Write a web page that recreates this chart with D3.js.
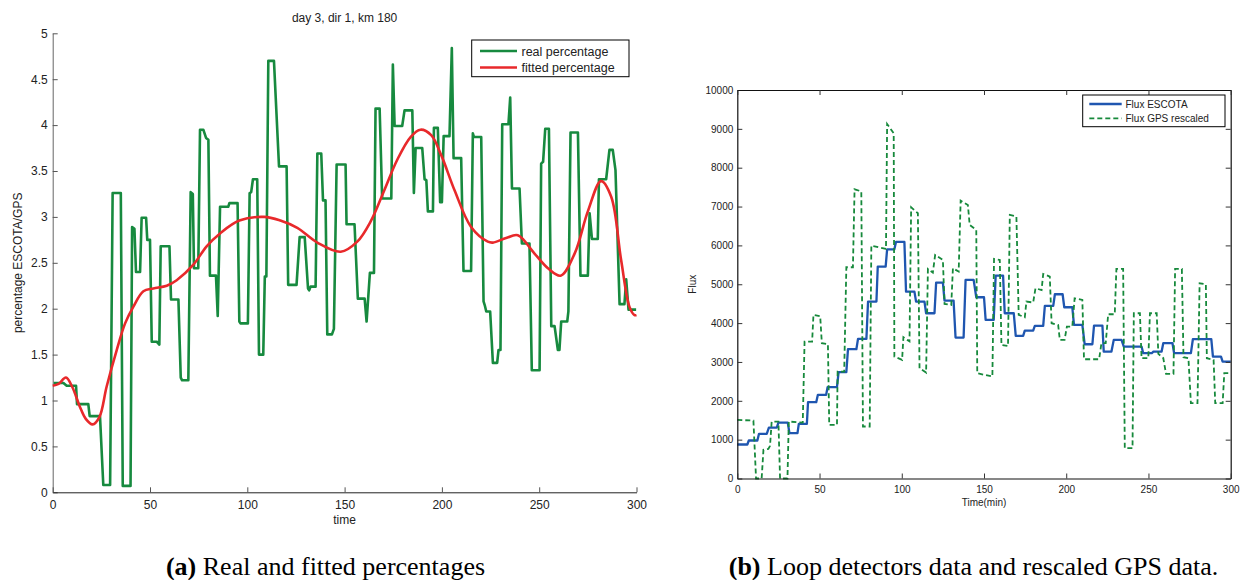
<!DOCTYPE html>
<html>
<head>
<meta charset="utf-8">
<script src="https://cdn.jsdelivr.net/npm/d3@7"></script>
<style>
  body { margin: 0; background: #fff; }
  text { font-family: "Liberation Sans", Arial, sans-serif; fill: #222; }
  .caption { font-family: "Liberation Serif", "Times New Roman", serif; font-size: 26px; fill: #000; }
</style>
</head>
<body>
<svg id="fig" width="1245" height="580"></svg>
<script>
// ---------- (a) percentage ESCOTA/GPS ----------
const realTime = [0.5,5.5,7.2,12,12.5,18.3,19,24.3,26,29.5,30.8,35,36,40,40.8,42,42.8,44.9,45.7,48,48.6,50,50.9,53.5,54.8,55.5,60,60.8,64.6,65.8,66.5,69.7,70.9,72,72.6,74.8,75.7,77.4,78.8,80,80.8,83.9,84.8,86,90.2,90.8,95,95.9,96.5,100.3,101.2,102,102.9,105.1,106,108.2,109,109.8,110.8,113.7,116.3,120.2,121,125.3,126.9,129.5,131.2,131.8,132.5,135.1,136,138,138.9,140.2,141.1,143.5,144.5,145.9,150.5,151,155.1,156.8,160.3,161.3,163,165.1,165.9,168,169.3,174,174.8,175.7,179.6,180.8,184.8,185.6,186.5,189.9,191.1,192,192.8,195.4,195.9,197.9,199.1,200,200.9,203.9,205.1,206,209.9,211.1,215,215.9,216.5,220.2,221.4,222,222.8,224.8,226.2,228.4,229.1,230.1,231,234.2,235.1,236,239.9,241.1,245,246.2,250.2,251,252,253.1,255,256.2,257.9,259.6,260.4,261.3,264.4,265,266.1,269.9,271.2,275,275.9,277.1,280.1,280.7,284.4,286.1,287.8,289.2,291.3,293.8,294.7,295.9,299.8];
const realPct = [1.19,1.19,1.16,1.16,0.96,0.96,0.83,0.83,0.08,0.08,3.26,3.26,0.07,0.07,2.89,2.87,2.40,2.40,2.99,2.99,2.75,2.75,1.64,1.64,1.61,2.68,2.68,2.10,2.10,1.25,1.22,1.22,3.27,3.25,2.44,2.44,3.95,3.95,3.86,3.84,2.36,2.36,1.92,3.11,3.11,3.15,3.15,1.86,1.84,1.84,3.26,3.27,3.41,3.41,1.50,1.50,2.35,2.35,4.70,4.70,3.55,3.55,2.26,2.26,2.78,2.78,2.22,2.20,2.24,2.24,3.69,3.69,3.18,3.18,1.72,1.72,1.78,3.57,3.57,2.92,2.92,2.11,2.11,1.86,2.39,2.39,4.18,4.18,3.20,3.20,4.66,3.99,3.99,4.16,4.16,3.26,3.75,3.75,3.41,3.40,3.06,3.06,3.97,3.97,3.16,3.16,3.88,3.88,4.84,3.64,3.64,2.41,2.41,3.91,3.87,3.87,2.08,2.04,1.97,1.97,1.41,1.41,1.55,1.55,4.01,4.01,4.30,3.31,3.31,2.71,2.71,1.33,1.33,3.58,3.60,3.96,3.96,1.81,1.81,1.55,1.55,1.86,1.86,1.97,3.92,3.92,2.36,2.36,3.04,2.76,2.76,3.41,3.41,3.73,3.73,3.51,2.05,2.05,2.32,1.99,1.99];

const fitTime = [0,3,6.8,10,14,17,20.5,24,27.7,32.9,37.2,41.4,46.6,51.7,58.6,63.7,72.3,79.1,86,95.9,108.6,117,125.7,136,148,156.5,163.4,170.2,177,183.9,189,194.5,199.7,206.5,215,223.6,226.2,233,239,247.6,254.5,261,268.2,275,281.8,287,292.1,296.4,299,300];
const fitPct = [1.16,1.18,1.25,1.15,0.93,0.80,0.74,0.82,1.15,1.55,1.84,2.02,2.19,2.22,2.25,2.31,2.48,2.68,2.82,2.96,3.00,2.96,2.88,2.72,2.62,2.73,2.95,3.28,3.62,3.87,3.95,3.89,3.67,3.29,2.89,2.73,2.72,2.77,2.80,2.60,2.44,2.36,2.60,3.06,3.39,3.22,2.53,2.02,1.93,1.93];

const pctTicks = [0,0.5,1,1.5,2,2.5,3,3.5,4,4.5,5];
const timeTicks = [0,50,100,150,200,250,300];

// ---------- (b) flux ----------
const fluxTime = [0,6.1,7,12.2,13.2,17.9,19.2,24,25,30.7,31.7,36.6,37.4,42.3,43,48,49,54,54.9,60.6,61.6,66.3,67.3,72.4,73.4,78.5,79.5,84.6,85.4,90.2,91.1,95.5,96.5,101.6,102.6,107.7,108.7,113.8,114.8,119.9,120.9,125,126,131.5,132.7,137.6,138.8,143.7,145.3,150,151,155.9,157.1,161.6,162.6,168.1,169.3,173.8,174.8,179.9,180.9,186,187,192.1,193.1,197.8,198.8,203.7,204.7,209.8,211.2,215.9,216.9,222,222.8,227.5,228.9,233.6,235,245.8,246.8,252,253,258,259,264.6,265.6,275.8,277,288.2,289.2,294.1,295.1,300];
const fluxEscota = [875,875,978,978,1150,1150,1312,1312,1440,1440,1166,1166,1406,1406,1964,1964,2153,2153,2350,2350,2736,2736,3328,3328,3593,3593,4554,4554,5455,5455,5900,5900,6089,6089,4811,4811,4554,4554,4254,4254,5043,5043,4580,4580,3628,3628,5111,5111,4666,4666,4082,4082,5223,5223,4254,4254,3671,3671,3808,3808,3928,3928,4443,4443,4743,4743,4408,4408,3954,3954,3456,3456,3937,3937,3267,3267,3568,3568,3396,3396,3225,3225,3267,3267,3482,3482,3225,3225,3585,3585,3139,3139,3010,3010];

const gpsTime = [0,9.8,11.4,14.8,15.9,18.9,19.9,20.9,25,26,30.5,31.3,39.8,40.9,45.5,46.3,50.4,51.4,55.1,55.9,60.6,61,65,66.3,70.3,71.3,75.4,76.4,80.5,81.5,90.4,91.1,95.1,95.5,100.2,101,104.7,105.7,109.8,110.8,114.8,115.9,118.9,120.3,125,126,130.1,131.1,134.6,135.8,140.2,141.3,145.3,145.9,155.1,156.1,159.6,160.6,164.6,165.7,169.7,171.1,174.8,175.8,179.9,181.3,185,186,190,191.1,195.1,196.1,199,200.4,203.7,205.1,209.8,210.8,220,221.4,224,225.5,229.5,230.5,234.6,235.6,240.3,241.1,244.8,245.8,249.9,250.9,255,256,259,260.7,265.2,266.2,270.3,271.3,274.3,275.8,279.8,281.1,284.9,285.5,289.6,290.6,295.1,296.1,300];
const gpsRescaled = [1509,1490,0,0,738,760,840,1466,1466,0,0,1466,1440,3525,3525,4211,4180,3482,3460,1381,1381,2753,2753,5437,5437,7444,7390,1338,1338,5995,5909,9125,8885,3139,3053,3636,3530,6981,6827,2839,2727,5394,5300,5755,5626,4494,4468,5412,5326,7153,7041,6527,6398,2710,2624,5652,5626,3439,3410,6784,6741,4211,4151,4554,4530,4897,4850,5266,5197,3997,3950,3568,3568,3911,3911,4640,4597,3070,3070,3482,3482,4228,4228,5394,5394,780,780,4254,4254,3096,3096,4254,4254,3207,3100,2693,2693,5394,5394,3122,3096,1938,1938,5026,5000,3096,3053,1938,1938,2710,2710];

const fluxTicks = [0,1000,2000,3000,4000,5000,6000,7000,8000,9000,10000];
const minuteTicks = [0,50,100,150,200,250,300];

const svg = d3.select("#fig");

// ================= panel (a) =================
const xA = d3.scaleLinear().domain([0, 300]).range([52.7, 636.5]);
const yA = d3.scaleLinear().domain([0, 5]).range([492.3, 33.3]);
const gA = svg.append("g");

const axA_left = gA.append("g").attr("transform", `translate(${xA(0)},0)`)
  .call(d3.axisLeft(yA).tickValues(pctTicks).tickFormat(d => String(d))
        .tickSizeInner(-5).tickSizeOuter(0).tickPadding(5));
const axA_bottom = gA.append("g").attr("transform", `translate(0,${yA(0)})`)
  .call(d3.axisBottom(xA).tickValues(timeTicks).tickFormat(d => String(d))
        .tickSizeInner(-5).tickSizeOuter(0).tickPadding(8));
[axA_left, axA_bottom].forEach(ax => {
  ax.selectAll("text").style("font-size", "12px").style("font-family", "Liberation Sans, Arial, sans-serif").attr("fill", "#222");
  ax.selectAll("line").attr("stroke", "#555");
});
axA_left.select(".domain").attr("stroke", "#666");
axA_bottom.select(".domain").attr("stroke", "#222");

const lineA = d3.line().x(d => xA(d[0])).y(d => yA(d[1]));
gA.append("path")
  .datum(d3.zip(realTime, realPct))
  .attr("d", lineA)
  .attr("fill", "none").attr("stroke", "#178a3f").attr("stroke-width", 2.6)
  .attr("stroke-linejoin", "round");
gA.append("path")
  .datum(d3.zip(fitTime, fitPct))
  .attr("d", lineA.curve(d3.curveCatmullRom.alpha(0.5)))
  .attr("fill", "none").attr("stroke", "#e8292b").attr("stroke-width", 2.6);

gA.append("text").attr("x", 344.6).attr("y", 22).attr("text-anchor", "middle")
  .style("font-size", "12px").text("day 3, dir 1, km 180");
gA.append("text").attr("x", 344.6).attr("y", 524).attr("text-anchor", "middle")
  .style("font-size", "12px").text("time");
gA.append("text").attr("transform", `translate(22,${(yA(0) + yA(5)) / 2}) rotate(-90)`)
  .attr("text-anchor", "middle").style("font-size", "12px").text("percentage ESCOTA/GPS");

// legend (a)
const legA = gA.append("g");
legA.append("rect").attr("x", 471.7).attr("y", 40).attr("width", 157.3).attr("height", 36.7)
  .attr("fill", "#fff").attr("stroke", "#000").attr("stroke-width", 1);
[["real percentage", "#178a3f", 51], ["fitted percentage", "#e8292b", 67.5]].forEach(([lab, col, yy]) => {
  legA.append("line").attr("x1", 480).attr("x2", 517).attr("y1", yy).attr("y2", yy)
    .attr("stroke", col).attr("stroke-width", 2.6);
  legA.append("text").attr("x", 521.5).attr("y", yy + 4.5).style("font-size", "12.5px").text(lab);
});

// ================= panel (b) =================
const xB = d3.scaleLinear().domain([0, 300]).range([737.3, 1230.7]);
const yB = d3.scaleLinear().domain([0, 10000]).range([478.5, 90]);
const gB = svg.append("g");

const lineB = d3.line().x(d => xB(d[0])).y(d => yB(d[1]));
gB.append("path")
  .datum(d3.zip(fluxTime, fluxEscota))
  .attr("d", lineB)
  .attr("fill", "none").attr("stroke", "#1f56b0").attr("stroke-width", 2.3)
  .attr("stroke-linejoin", "round");
gB.append("path")
  .datum(d3.zip(gpsTime, gpsRescaled))
  .attr("d", lineB)
  .attr("fill", "none").attr("stroke", "#16893b").attr("stroke-width", 1.8)
  .attr("stroke-dasharray", "5,3");

const axB = [
  gB.append("g").attr("transform", `translate(${xB(0)},0)`)
    .call(d3.axisLeft(yB).tickValues(fluxTicks).tickFormat(d => String(d)).tickSizeInner(-5).tickSizeOuter(0).tickPadding(4)),
  gB.append("g").attr("transform", `translate(${xB(300)},0)`)
    .call(d3.axisRight(yB).tickValues(fluxTicks).tickFormat("").tickSizeInner(-5).tickSizeOuter(0)),
  gB.append("g").attr("transform", `translate(0,${yB(0)})`)
    .call(d3.axisBottom(xB).tickValues(minuteTicks).tickFormat(d => String(d)).tickSizeInner(-5).tickSizeOuter(0).tickPadding(7)),
  gB.append("g").attr("transform", `translate(0,${yB(10000)})`)
    .call(d3.axisTop(xB).tickValues(minuteTicks).tickFormat("").tickSizeInner(-5).tickSizeOuter(0))
];
axB.forEach(ax => {
  ax.selectAll("text").style("font-size", "10px").style("font-family", "Liberation Sans, Arial, sans-serif").attr("fill", "#222");
  ax.selectAll("line").attr("stroke", "#333");
  ax.select(".domain").attr("stroke", "#111").attr("stroke-width", 1.2);
});

gB.append("text").attr("x", (xB(0) + xB(300)) / 2).attr("y", 505.5).attr("text-anchor", "middle")
  .style("font-size", "10px").text("Time(min)");
gB.append("text").attr("transform", `translate(696,${(yB(0) + yB(10000)) / 2}) rotate(-90)`)
  .attr("text-anchor", "middle").style("font-size", "10px").text("Flux");

// legend (b)
const legB = gB.append("g");
legB.append("rect").attr("x", 1082.7).attr("y", 95).attr("width", 142.3).attr("height", 31.7)
  .attr("fill", "#fff").attr("stroke", "#000").attr("stroke-width", 1);
[["Flux ESCOTA", "#1f56b0", 104, null, 2.3], ["Flux GPS rescaled", "#16893b", 118.3, "5,3", 1.8]].forEach(([lab, col, yy, dash, w]) => {
  legB.append("line").attr("x1", 1089.3).attr("x2", 1121.7).attr("y1", yy).attr("y2", yy)
    .attr("stroke", col).attr("stroke-width", w).attr("stroke-dasharray", dash);
  legB.append("text").attr("x", 1125.5).attr("y", yy + 3.6).style("font-size", "10px").text(lab);
});

// ================= captions =================
const capA = svg.append("text").attr("class", "caption").attr("x", 325.5).attr("y", 575).attr("text-anchor", "middle");
capA.append("tspan").attr("font-weight", "bold").text("(a)");
capA.append("tspan").text(" Real and fitted percentages");
const capB = svg.append("text").attr("class", "caption").attr("x", 973.5).attr("y", 575).attr("text-anchor", "middle");
capB.append("tspan").attr("font-weight", "bold").text("(b)");
capB.append("tspan").text(" Loop detectors data and rescaled GPS data.");
</script>
</body>
</html>
